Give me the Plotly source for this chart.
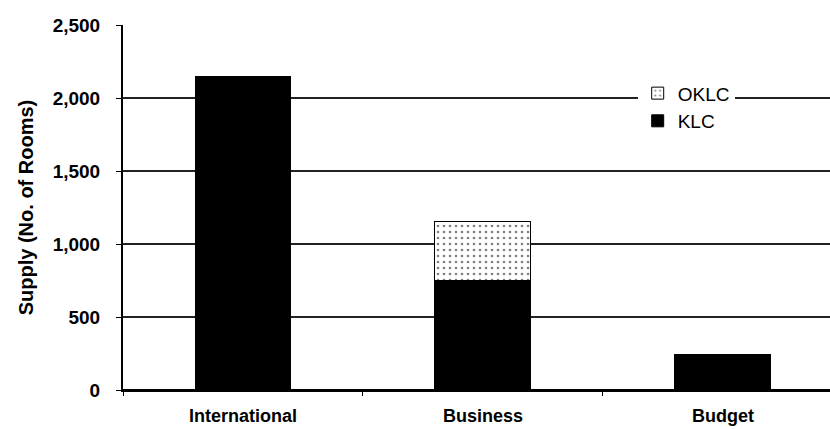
import plotly.graph_objects as go

categories = ["International", "Business", "Budget"]
klc = [2150, 750, 245]
oklc = [0, 405, 0]
y_ticks = [0, 500, 1000, 1500, 2000, 2500]
y_tick_labels = ["0", "500", "1,000", "1,500", "2,000", "2,500"]

FONT = "Liberation Sans, Arial, sans-serif"

fig = go.Figure()
fig.add_trace(go.Bar(
    x=categories, y=klc, name="KLC", width=0.4,
    marker=dict(color="black", line=dict(color="black", width=1)),
))
fig.add_trace(go.Bar(
    x=categories, y=oklc, name="OKLC", width=0.4,
    marker=dict(color="white", line=dict(color="black", width=1),
                pattern=dict(shape=".", fgcolor="black", bgcolor="white",
                             size=6, solidity=0.15)),
))

fig.update_layout(
    barmode="stack",
    width=830, height=429,
    margin=dict(l=123, r=0, t=25, b=39),
    paper_bgcolor="white", plot_bgcolor="white",
    font=dict(family=FONT, color="black", size=18),
    showlegend=True,
    legend=dict(
        x=0.728, y=0.865, xanchor="left", yanchor="top",
        traceorder="reversed", bgcolor="white",
        font=dict(family=FONT, size=19, color="black"),
    ),
    xaxis=dict(
        range=[-0.5, 2.446],
        showline=True, linecolor="black", linewidth=2,
        ticks="outside", tickson="boundaries", ticklen=4, tickcolor="black",
        tickfont=dict(family=FONT, size=18, weight="bold"),
        ticklabelstandoff=8,
        showgrid=False,
    ),
    yaxis=dict(
        range=[0, 2500],
        tickvals=y_ticks, ticktext=y_tick_labels,
        showline=True, linecolor="black", linewidth=2,
        ticks="outside", ticklen=5, tickcolor="black",
        tickfont=dict(family=FONT, size=19, weight="bold"),
        ticklabelstandoff=12,
        showgrid=True, gridcolor="#222222", gridwidth=1.5,
        zeroline=True, zerolinecolor="black", zerolinewidth=2,
        title=dict(text="Supply (No. of Rooms)", standoff=14,
                   font=dict(family=FONT, size=20, weight="bold")),
    ),
)

fig.write_html("out.html")
